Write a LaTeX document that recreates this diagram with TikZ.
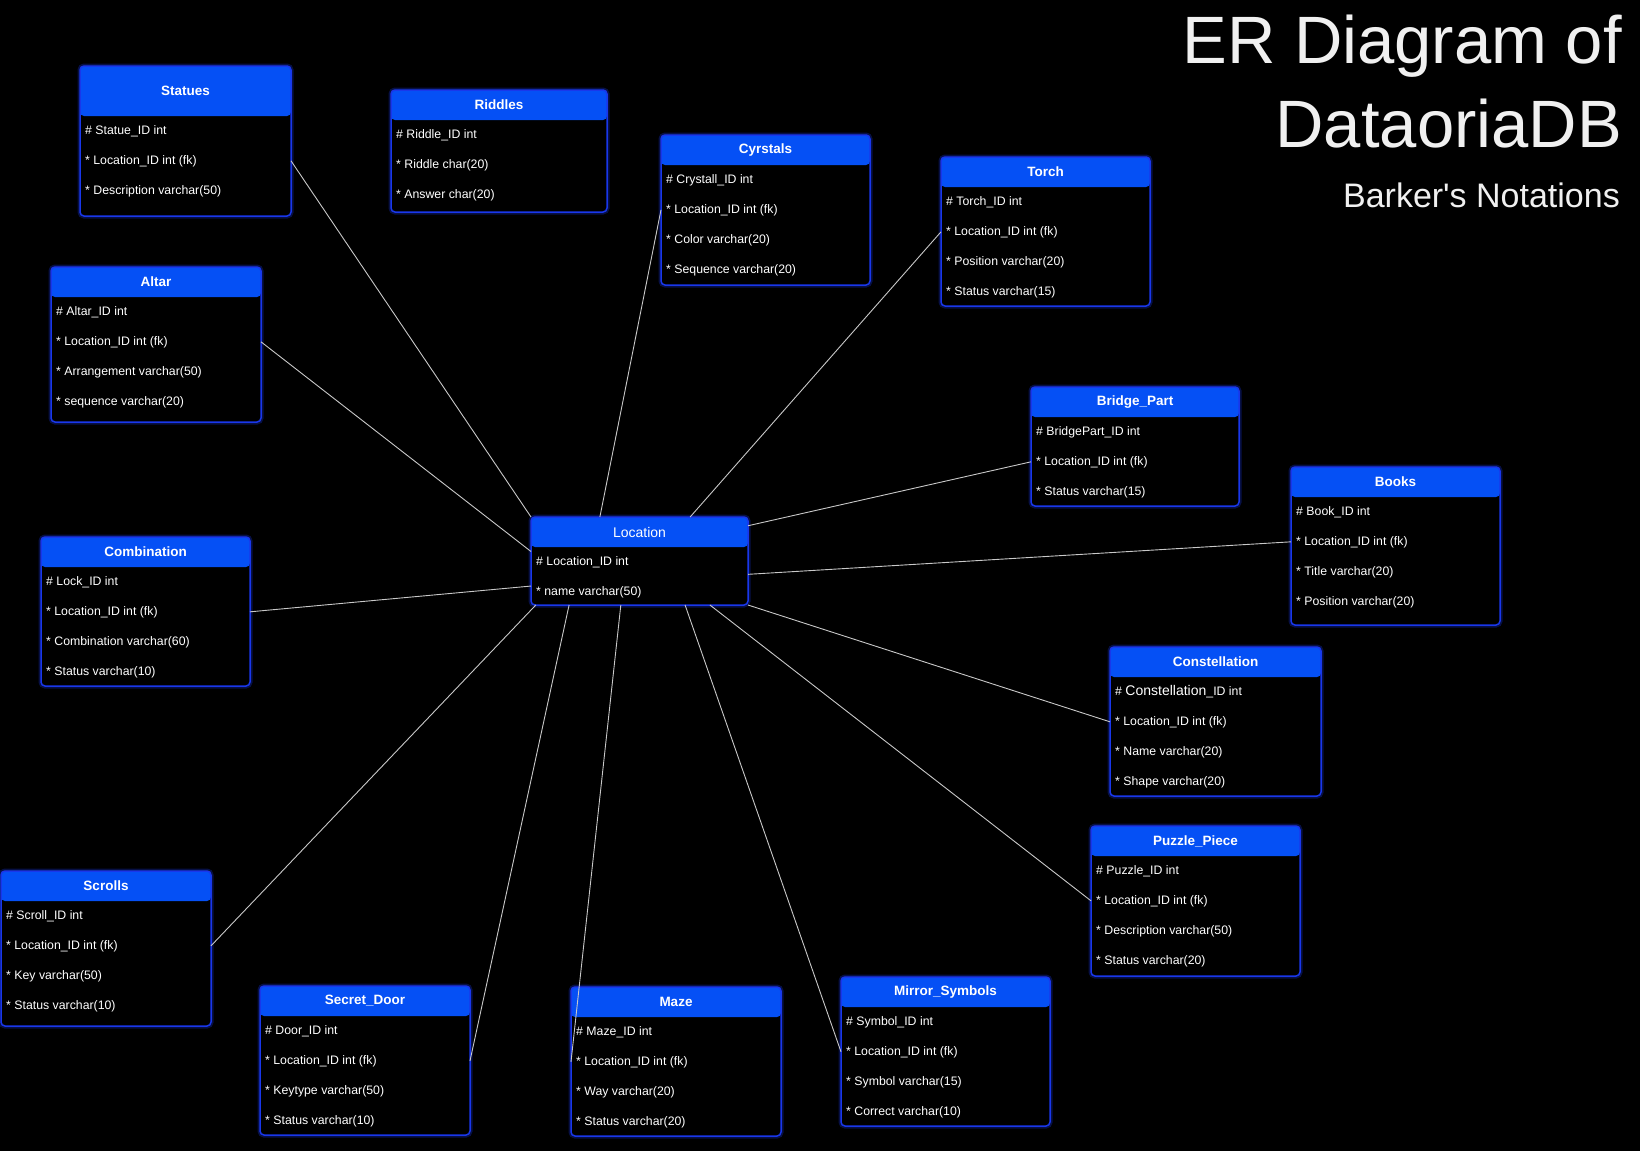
\documentclass[tikz,border=0pt]{standalone}
\usepackage{fontspec}
\setmainfont{Liberation Sans}
\usetikzlibrary{positioning,calc}
\definecolor{hdrblue}{RGB}{5,80,245}
\definecolor{edgeblue}{RGB}{25,55,235}
\definecolor{linkgray}{RGB}{200,200,200}

\begin{document}
\begin{tikzpicture}[x=1pt,y=-1pt,
    tbl/.style={draw=edgeblue, line width=1.5pt, fill=black, rounded corners=4pt, inner sep=0pt, outer sep=0pt,
      preaction={draw=edgeblue, line width=5pt, opacity=0.3}},
    hdrtxt/.style={text=white, font=\fontsize{13.5}{14}\selectfont\bfseries, inner sep=0pt},
    row/.style={text=white, font=\fontsize{12.3}{14}\selectfont, inner sep=0pt, anchor=base west},
    link/.style={draw=linkgray, line width=0.9pt},
    heading/.style={text=white!94!black, anchor=base east, inner sep=0pt}]
        \fill[black] (0,0) rectangle (1640,1151);
        \useasboundingbox (0,0) rectangle (1640,1151);
        % title
        \node[heading, font=\fontsize{67}{67}\selectfont] (title1) at (1622,63) {ER Diagram of};
        \node[heading, font=\fontsize{67}{67}\selectfont] (title2) at (1622,147) {DataoriaDB};
        \node[heading, font=\fontsize{34}{34}\selectfont] (title3) at (1620,207) {Barker\textquotesingle s Notations};
        % tables
        \foreach \nm/\ttl/\x/\y/\w/\h/\hh/\rows in {
            statues/Statues/80/66/211/150/50/{{\# Statue\_ID int},{* Location\_ID int (fk)},{* Description varchar(50)}},
            riddles/Riddles/391/90/216/122/30/{{\# Riddle\_ID int},{* Riddle char(20)},{* Answer char(20)}},
            cyrstals/Cyrstals/661/135/209/150/30/{{\# Crystall\_ID int},{* Location\_ID int (fk)},{* Color varchar(20)},{* Sequence varchar(20)}},
            torch/Torch/941/157/209/149/30/{{\# Torch\_ID int},{* Location\_ID int (fk)},{* Position varchar(20)},{* Status varchar(15)}},
            altar/Altar/51/267/210/155/30/{{\# Altar\_ID int},{* Location\_ID int (fk)},{* Arrangement varchar(50)},{* sequence varchar(20)}},
            bridge/Bridge\_Part/1031/387/208/119/30/{{\# BridgePart\_ID int},{* Location\_ID int (fk)},{* Status varchar(15)}},
            books/Books/1291/467/209/158/30/{{\# Book\_ID int},{* Location\_ID int (fk)},{* Title varchar(20)},{* Position varchar(20)}},
            location/{\mdseries\fontsize{14}{14}\selectfont Location}/531/517/217/88/30/{{\# Location\_ID int},{* name varchar(50)}},
            combination/Combination/41/537/209/149/30/{{\# Lock\_ID int},{* Location\_ID int (fk)},{* Combination varchar(60)},{* Status varchar(10)}},
            constellation/Constellation/1110/647/211/149/30/{{\# {\fontsize{14}{14}\selectfont Constellation}\_ID int},{* Location\_ID int (fk)},{* Name varchar(20)},{* Shape varchar(20)}},
            puzzle/Puzzle\_Piece/1091/826/209/150/30/{{\# Puzzle\_ID int},{* Location\_ID int (fk)},{* Description varchar(50)},{* Status varchar(20)}},
            scrolls/Scrolls/1/871/210/155/30/{{\# Scroll\_ID int},{* Location\_ID int (fk)},{* Key varchar(50)},{* Status varchar(10)}},
            secretdoor/Secret\_Door/260/986/210/149/30/{{\# Door\_ID int},{* Location\_ID int (fk)},{* Keytype varchar(50)},{* Status varchar(10)}},
            maze/Maze/571/987/210/149/30/{{\# Maze\_ID int},{* Location\_ID int (fk)},{* Way varchar(20)},{* Status varchar(20)}},
            mirror/Mirror\_Symbols/841/977/209/149/30/{{\# Symbol\_ID int},{* Location\_ID int (fk)},{* Symbol varchar(15)},{* Correct varchar(10)}}}{
            \node[tbl, anchor=north west, minimum width=\w pt, minimum height=\h pt,
                path picture={\fill[hdrblue] (path picture bounding box.north west) rectangle ([yshift=-\hh pt]path picture bounding box.north east);}] (\nm) at (\x,\y) {};
            \node[hdrtxt] (\nm-t) at ({\x+\w/2},{\y+\hh/2}) {\ttl};
            \foreach \r [count=\i] in \rows
                \node[row] (\nm-\i) at ({\x+5},{\y+\hh+18+30*(\i-1)}) {\r};
        }
        % relationships to Location
        \draw[link] (statues.east |- statues-2) -- (location.north west);
        \draw[link] (altar.east |- altar-2) -- (location.175);
        \draw[link] (cyrstals.west |- cyrstals-2) -- (location.132);
        \draw[link] (torch.west |- torch-2) -- (location.41);
        \draw[link] (bridge.west |- bridge-2) -- (location.18);
        \draw[link] (books.west |- books-2) -- (location.-7);
        \draw[link] (combination.east |- combination-2) -- (location.193);
        \draw[link] (constellation.west |- constellation-2) -- (location.south east);
        \draw[link] (puzzle.west |- puzzle-2) -- (location.-32);
        \draw[link] (scrolls.east |- scrolls-2) -- (location.203);
        \draw[link] (secretdoor.east |- secretdoor-2) -- (location.212);
        \draw[link] (maze.west |- maze-2) -- (location.247);
        \draw[link] (mirror.west |- mirror-2) -- (location.316);
\end{tikzpicture}
\end{document}
